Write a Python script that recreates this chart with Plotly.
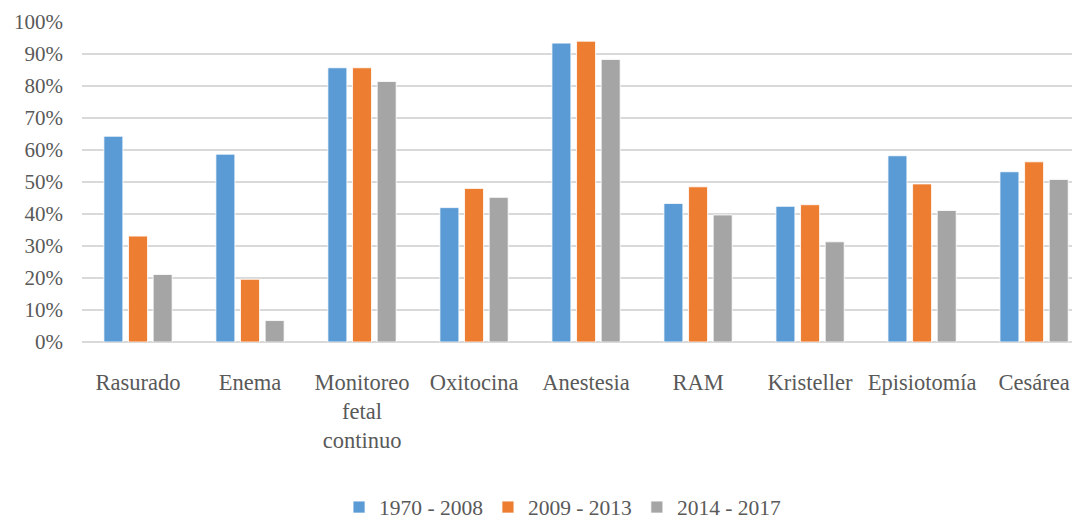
import plotly.graph_objects as go

categories = ["Rasurado", "Enema", "Monitoreo<br>fetal<br>continuo", "Oxitocina", "Anestesia",
              "RAM", "Kristeller", "Episiotomía", "Cesárea"]
series_names = ["1970 - 2008", "2009 - 2013", "2014 - 2017"]
s1970_2008 = [0.643, 0.587, 0.857, 0.420, 0.934, 0.433, 0.424, 0.582, 0.532]
s2009_2013 = [0.331, 0.196, 0.857, 0.480, 0.940, 0.485, 0.429, 0.494, 0.563]
s2014_2017 = [0.211, 0.067, 0.814, 0.452, 0.883, 0.397, 0.313, 0.411, 0.508]
colors = ["#5B9BD5", "#ED7D31", "#A5A5A5"]
y_ticks = [i / 10 for i in range(11)]
y_tick_labels = [f"{i*10}%" for i in range(11)]

font_family = "Liberation Serif"
text_color = "#595959"

fig = go.Figure()
for name, vals, col in zip(series_names, [s1970_2008, s2009_2013, s2014_2017], colors):
    fig.add_trace(go.Bar(
        x=list(range(len(categories))), y=vals, name=name,
        marker=dict(color=col, line=dict(color="white", width=0.8)),
    ))

fig.update_layout(
    width=1072, height=520,
    margin=dict(l=74, r=0, t=14, b=179),
    paper_bgcolor="white", plot_bgcolor="white",
    barmode="group", bargap=0.34, bargroupgap=0.23,
    font=dict(family=font_family, size=22, color=text_color),
    showlegend=True,
    legend=dict(orientation="h", x=0.482, xanchor="center", y=-0.58, yanchor="bottom",
                font=dict(family=font_family, size=21.5, color=text_color),
                itemwidth=30, tracegroupgap=0),
)
fig.update_xaxes(
    tickmode="array", tickvals=list(range(len(categories))), ticktext=categories,
    range=[-0.5, 8.41], showgrid=False, zeroline=False, showline=False,
    ticks="", ticklabelstandoff=24, automargin=False,
    tickfont=dict(family=font_family, size=22.5, color=text_color),
)
fig.update_yaxes(
    range=[0, 1.0], tickmode="array", tickvals=y_ticks, ticktext=y_tick_labels,
    showgrid=True, gridcolor="#D9D9D9", gridwidth=2,
    zeroline=True, zerolinecolor="#D9D9D9", zerolinewidth=2,
    showline=False, ticks="", ticklabelstandoff=18, automargin=False,
    tickfont=dict(family=font_family, size=21, color=text_color),
)

fig.write_html("out.html")
